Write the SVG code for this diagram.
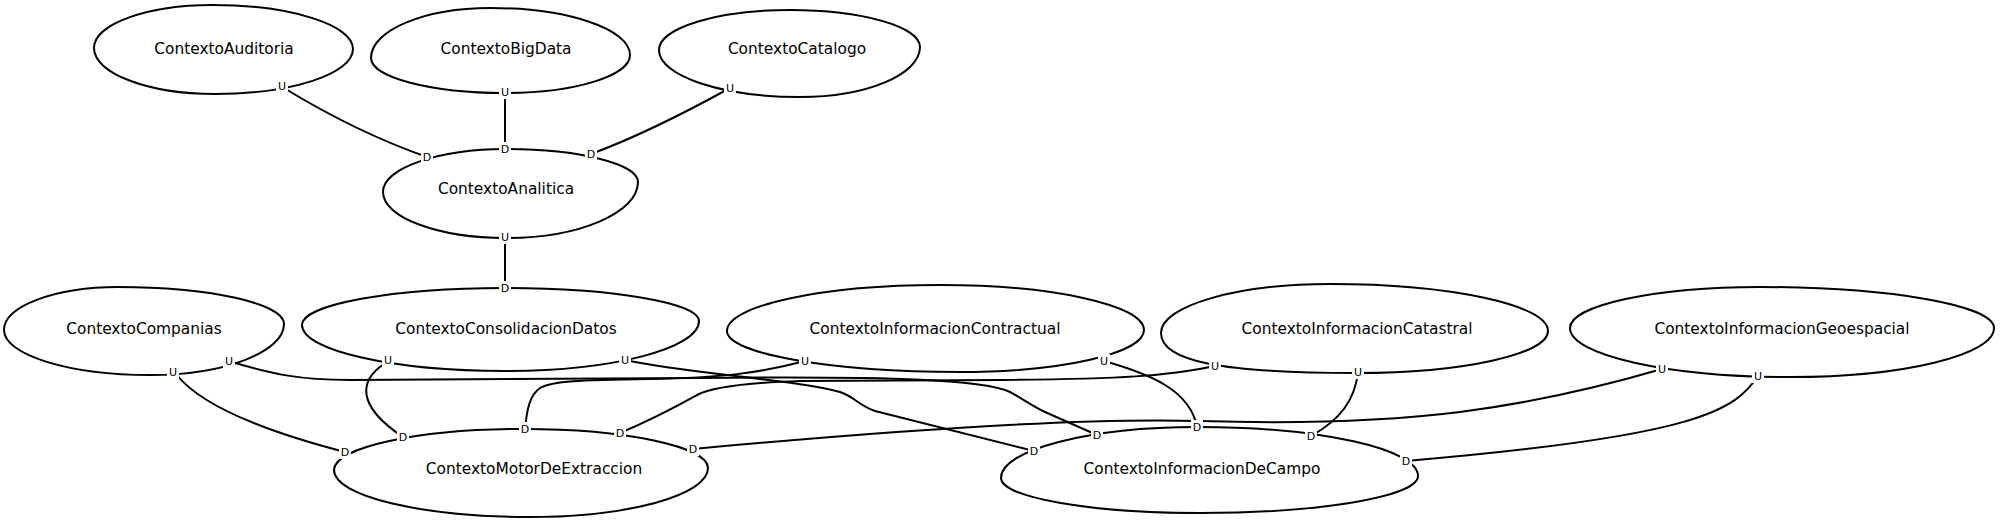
<svg xmlns="http://www.w3.org/2000/svg" width="2000" height="520" viewBox="0 0 2000 520">
<style>
.n{fill:#fff;stroke:#000;stroke-width:2}
.t{font-family:"DejaVu Sans","Liberation Sans",sans-serif;font-size:15.4px;fill:#000;text-anchor:middle}
.e{fill:none;stroke:#000;stroke-width:2}
.p{font-family:"DejaVu Sans","Liberation Sans",sans-serif;font-size:11px;fill:#000;text-anchor:middle}
.pb{fill:#fff}
</style>
<rect width="2000" height="520" fill="#fff"/>
<g id="nodes">
<g id="ContextoAuditoria"><path class="n" d="M94,48 C94,24.3 146.8,5 212,5 C289.9,5 353,24.7 353,49 C353,73.9 291.2,94 215,94 C148.2,94 94,73.4 94,48 Z"/><text class="t" x="224" y="54">ContextoAuditoria</text></g>
<g id="ContextoBigData"><path class="n" d="M371,58 C371,30.4 424.3,8 490,8 C567.3,8 630,29 630,55 C630,76 574,93 505,93 C431,93 371,77.3 371,58 Z"/><text class="t" x="506" y="54">ContextoBigData</text></g>
<g id="ContextoCatalogo"><path class="n" d="M659,50 C659,27.9 717.6,10 790,10 C861.8,10 920,26.6 920,47 C920,74.6 866.3,97 800,97 C722.1,97 659,76 659,50 Z"/><text class="t" x="797" y="54">ContextoCatalogo</text></g>
<g id="ContextoAnalitica"><path class="n" d="M383,192 C383,168.3 438.1,149 506,149 C578.9,149 638,163.8 638,182 C638,212.9 578.9,238 506,238 C438.1,238 383,217.4 383,192 Z"/><text class="t" x="506" y="194">ContextoAnalitica</text></g>
<g id="ContextoCompanias"><path class="n" d="M4,330 C4,306.3 55,287 118,287 C209.7,287 284,303.6 284,324 C284,352.2 224,375 150,375 C69.4,375 4,354.9 4,330 Z"/><text class="t" x="144" y="334">ContextoCompanias</text></g>
<g id="ContextoConsolidacionDatos"><path class="n" d="M302,325 C302,304.6 392.9,288 505,288 C612.1,288 699,302.8 699,321 C699,348.6 612.1,371 505,371 C392.9,371 302,350.4 302,325 Z"/><text class="t" x="506" y="334">ContextoConsolidacionDatos</text></g>
<g id="ContextoInformacionContractual"><path class="n" d="M727,331 C727,305.6 822.4,285 940,285 C1052.7,285 1144,305.1 1144,330 C1144,353.2 1061.6,372 960,372 C831.3,372 727,353.6 727,331 Z"/><text class="t" x="935" y="334">ContextoInformacionContractual</text></g>
<g id="ContextoInformacionCatastral"><path class="n" d="M1161,333 C1161,305.9 1236.7,284 1330,284 C1450.4,284 1548,305 1548,331 C1548,354.2 1462.5,373 1357,373 C1220,373 1161,361 1161,333 Z"/><text class="t" x="1357" y="334">ContextoInformacionCatastral</text></g>
<g id="ContextoInformacionGeoespacial"><path class="n" d="M1570,328 C1570,305.4 1655.1,287 1760,287 C1889.2,287 1994,305.4 1994,328 C1994,355.1 1902.7,377 1790,377 C1668.5,377 1570,355.1 1570,328 Z"/><text class="t" x="1782" y="334">ContextoInformacionGeoespacial</text></g>
<g id="ContextoMotorDeExtraccion"><path class="n" d="M334,470 C334,447.4 418.6,429 523,429 C625.2,429 708,446.5 708,468 C708,495.1 628.3,517 530,517 C421.7,517 334,496 334,470 Z"/><text class="t" x="534" y="474">ContextoMotorDeExtraccion</text></g>
<g id="ContextoInformacionDeCampo"><path class="n" d="M1001,478 C1001,449.8 1089.2,427 1198,427 C1319.5,427 1418,448.9 1418,476 C1418,496.4 1320.4,513 1200,513 C1090.1,513 1001,497.3 1001,478 Z"/><text class="t" x="1202" y="474">ContextoInformacionDeCampo</text></g>
</g>
<g id="connectors">
<path class="e" d="M284,88 C320,110 370,137 427,157"/>
<path class="e" d="M505,92 L505,149"/>
<path class="e" d="M730,88 C690,110 640,136 591,154"/>
<path class="e" d="M505,237 L505,288"/>
<path class="e" d="M176,374 C200,405 260,430 345,452"/>
<path class="e" d="M229,361 C270,374 300,380 350,380 L700,378 C900,376 985,380 1010,392 C1025,400 1030,405 1045,412 L1097,435"/>
<path class="e" d="M384,364 C360,380 355,405 403,437"/>
<path class="e" d="M625,360 C690,374 800,380 840,392 C855,397 858,405 875,411 L1034,451"/>
<path class="e" d="M805,361 C760,373 720,378 650,379 C580,380 552,381 540,388 C530,395 527,408 525,429"/>
<path class="e" d="M1215,366 C1170,376 1120,379 1000,380 L800,381 C740,383 710,388 697,395 C688,400 660,416 620,433"/>
<path class="e" d="M1104,361 C1150,374 1190,390 1197,427"/>
<path class="e" d="M1358,372 C1355,400 1340,420 1311,436"/>
<path class="e" d="M1662,369 C1590,390 1530,403 1460,412 C1380,422 1300,424 1200,421 C1100,418 950,425 693,449"/>
<path class="e" d="M1758,376 C1735,410 1700,436 1406,461"/>
<g id="ports">
<rect class="pb" x="276" y="79" width="12" height="14"/><text class="p" x="282" y="90">U</text>
<rect class="pb" x="499" y="85" width="12" height="14"/><text class="p" x="505" y="96">U</text>
<rect class="pb" x="724" y="81" width="12" height="14"/><text class="p" x="730" y="92">U</text>
<rect class="pb" x="421" y="150" width="12" height="14"/><text class="p" x="427" y="161">D</text>
<rect class="pb" x="499" y="142" width="12" height="14"/><text class="p" x="505" y="153">D</text>
<rect class="pb" x="585" y="147" width="12" height="14"/><text class="p" x="591" y="158">D</text>
<rect class="pb" x="499" y="230" width="12" height="14"/><text class="p" x="505" y="241">U</text>
<rect class="pb" x="499" y="281" width="12" height="14"/><text class="p" x="505" y="292">D</text>
<rect class="pb" x="167" y="365" width="12" height="14"/><text class="p" x="173" y="376">U</text>
<rect class="pb" x="223" y="354" width="12" height="14"/><text class="p" x="229" y="365">U</text>
<rect class="pb" x="382" y="353" width="12" height="14"/><text class="p" x="388" y="364">U</text>
<rect class="pb" x="619" y="353" width="12" height="14"/><text class="p" x="625" y="364">U</text>
<rect class="pb" x="799" y="354" width="12" height="14"/><text class="p" x="805" y="365">U</text>
<rect class="pb" x="1098" y="354" width="12" height="14"/><text class="p" x="1104" y="365">U</text>
<rect class="pb" x="1209" y="359" width="12" height="14"/><text class="p" x="1215" y="370">U</text>
<rect class="pb" x="1352" y="365" width="12" height="14"/><text class="p" x="1358" y="376">U</text>
<rect class="pb" x="1656" y="362" width="12" height="14"/><text class="p" x="1662" y="373">U</text>
<rect class="pb" x="1752" y="369" width="12" height="14"/><text class="p" x="1758" y="380">U</text>
<rect class="pb" x="339" y="445" width="12" height="14"/><text class="p" x="345" y="456">D</text>
<rect class="pb" x="397" y="430" width="12" height="14"/><text class="p" x="403" y="441">D</text>
<rect class="pb" x="519" y="422" width="12" height="14"/><text class="p" x="525" y="433">D</text>
<rect class="pb" x="614" y="426" width="12" height="14"/><text class="p" x="620" y="437">D</text>
<rect class="pb" x="687" y="442" width="12" height="14"/><text class="p" x="693" y="453">D</text>
<rect class="pb" x="1028" y="444" width="12" height="14"/><text class="p" x="1034" y="455">D</text>
<rect class="pb" x="1091" y="428" width="12" height="14"/><text class="p" x="1097" y="439">D</text>
<rect class="pb" x="1191" y="420" width="12" height="14"/><text class="p" x="1197" y="431">D</text>
<rect class="pb" x="1305" y="429" width="12" height="14"/><text class="p" x="1311" y="440">D</text>
<rect class="pb" x="1400" y="454" width="12" height="14"/><text class="p" x="1406" y="465">D</text>
</g>
</g>
</svg>
